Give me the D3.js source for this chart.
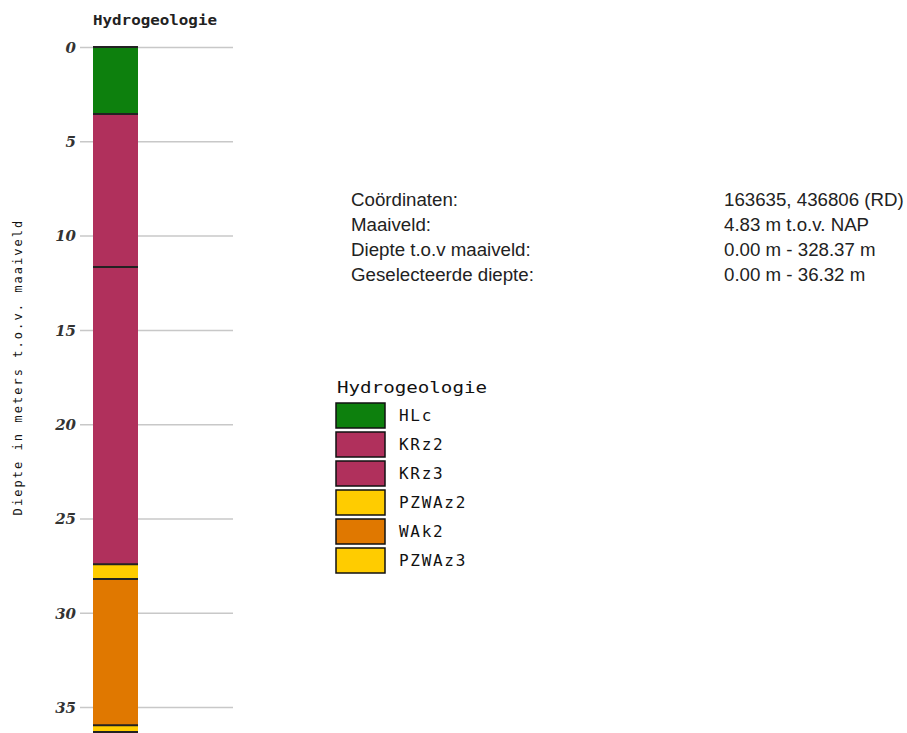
<!DOCTYPE html>
<html><head><meta charset="utf-8">
<script src="https://cdn.jsdelivr.net/npm/d3@7"></script>
<style>body{margin:0;background:#fff}svg{display:block}</style>
</head><body>
<svg id="c" width="907" height="733"></svg>
<script>
const layerNames = ["HLc","KRz2","KRz3","PZWAz2","WAk2","PZWAz3"];
const layerTops = [0, 3.55, 11.67, 27.42, 28.21, 35.96];
const layerBottoms = [3.55, 11.67, 27.42, 28.21, 35.96, 36.32];
const layerColors = ["#0d800d","#b0305c","#b0305c","#ffcc00","#e07800","#ffcc00"];
const depthTicks = [0,5,10,15,20,25,30,35];
const infoLabels = ["Coördinaten:","Maaiveld:","Diepte t.o.v maaiveld:","Geselecteerde diepte:"];
const infoValues = ["163635, 436806 (RD)","4.83 m t.o.v. NAP","0.00 m - 328.37 m","0.00 m - 36.32 m"];

const svg = d3.select("#c");
const y = d3.scaleLinear().domain([0, 36.32]).range([47, 732]);
const barX = 93, barW = 45;

// gridlines + ticks
const axis = d3.axisLeft(y).tickValues(depthTicks).tickSize(-153).tickPadding(4).tickFormat(d3.format("d"));
const g = svg.append("g").attr("transform","translate(80,0)").call(axis);
g.select(".domain").remove();
g.selectAll(".tick line").attr("stroke","#c8c8c8").attr("stroke-width",1.5);
g.selectAll(".tick text").attr("font-family","DejaVu Serif").attr("font-weight","bold")
  .attr("font-style","italic").attr("font-size",15).attr("fill","#333").attr("x",-4).attr("dy","0.35em");

// layers
svg.append("g").selectAll("rect").data(layerNames).join("rect")
  .attr("x", barX).attr("width", barW)
  .attr("y", (d,i)=>y(layerTops[i])).attr("height",(d,i)=>y(layerBottoms[i])-y(layerTops[i]))
  .attr("fill",(d,i)=>layerColors[i]);
const bounds = layerTops.concat([layerBottoms[layerBottoms.length-1]]);
svg.append("g").selectAll("line").data(bounds).join("line")
  .attr("x1",barX).attr("x2",barX+barW).attr("y1",d=>y(d)).attr("y2",d=>y(d))
  .attr("stroke","#222").attr("stroke-width",2);

// title
svg.append("text").attr("x",93).attr("y",25).attr("font-family","DejaVu Sans Mono")
  .attr("font-size",13.5).attr("font-weight","bold").attr("textLength",124).attr("lengthAdjust","spacingAndGlyphs")
  .attr("fill","#222").text("Hydrogeologie");

// y label
svg.append("text").attr("transform","translate(22,367) rotate(-90)").attr("text-anchor","middle")
  .attr("font-family","DejaVu Sans Mono").attr("font-size",12).attr("letter-spacing",2.05)
  .attr("fill","#111").text("Diepte in meters t.o.v. maaiveld");

// info
const info = svg.append("g").attr("font-family","Liberation Sans, Arial").attr("font-size",18.7).attr("fill","#222");
info.selectAll("text.l").data(infoLabels).join("text").attr("class","l")
  .attr("x",351).attr("y",(d,i)=>206+i*25).text(d=>d);
info.selectAll("text.v").data(infoValues).join("text").attr("class","v")
  .attr("x",724).attr("y",(d,i)=>206+i*25).text(d=>d);

// legend
const leg = svg.append("g");
leg.append("text").attr("x",337).attr("y",393).attr("font-family","DejaVu Sans Mono")
  .attr("font-size",16).attr("textLength",150).attr("lengthAdjust","spacingAndGlyphs")
  .attr("fill","#111").text("Hydrogeologie");
const items = leg.selectAll("g.item").data(layerNames).join("g").attr("class","item")
  .attr("transform",(d,i)=>`translate(336,${403+i*29})`);
items.append("rect").attr("width",49).attr("height",25)
  .attr("fill",(d,i)=>layerColors[i]).attr("stroke","#111").attr("stroke-width",1.5);
items.append("text").attr("x",63).attr("y",18).attr("font-family","DejaVu Sans Mono")
  .attr("font-size",16).attr("letter-spacing",1.7).attr("fill","#111").text(d=>d);
</script>
</body></html>
